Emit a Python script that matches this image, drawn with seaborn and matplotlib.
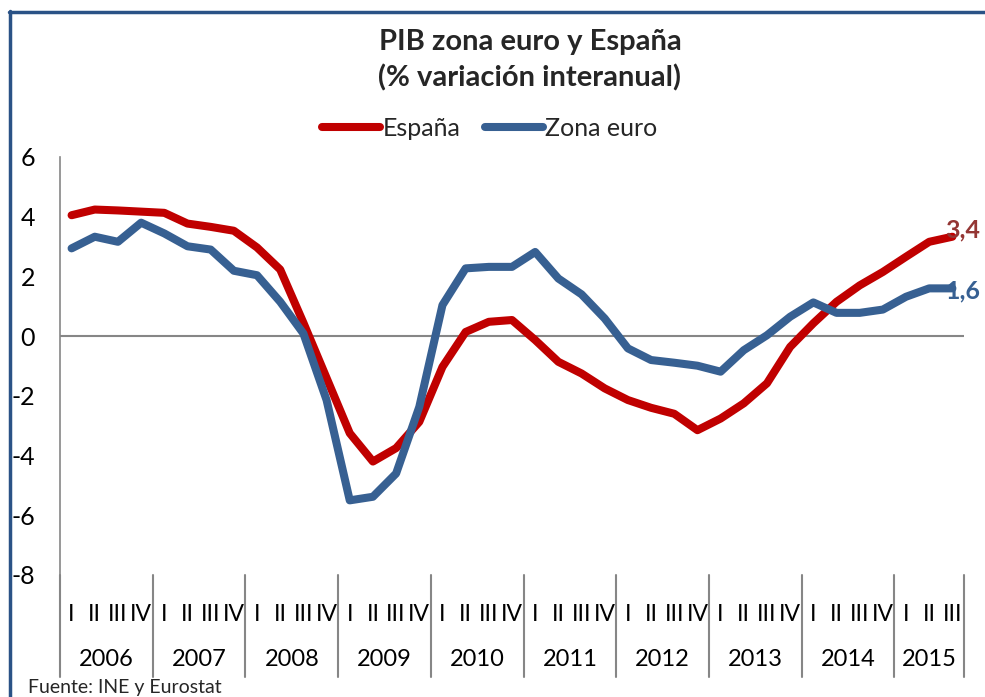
import matplotlib
matplotlib.use("Agg")
import matplotlib.pyplot as plt
from matplotlib.lines import Line2D
import matplotlib.transforms as mtransforms
import seaborn as sns
import pandas as pd

# ---- data ----
years = ["2006", "2007", "2008", "2009", "2010", "2011", "2012", "2013", "2014", "2015"]
quarters = ["I", "II", "III", "IV"] * 9 + ["I", "II", "III"]
espana = [4.05, 4.24, 4.21, 4.17, 4.13, 3.77, 3.66, 3.53, 2.97, 2.23,
          0.45, -1.40, -3.25, -4.20, -3.75, -2.87, -1.03, 0.14, 0.48, 0.54,
          -0.13, -0.86, -1.25, -1.75, -2.14, -2.40, -2.60, -3.15, -2.76, -2.25,
          -1.58, -0.36, 0.43, 1.15, 1.70, 2.15, 2.66, 3.16, 3.33]
zona_euro = [2.94, 3.33, 3.16, 3.80, 3.44, 3.01, 2.90, 2.19, 2.04, 1.15,
             0.09, -2.14, -5.50, -5.38, -4.60, -2.37, 1.04, 2.27, 2.32, 2.32,
             2.82, 1.93, 1.40, 0.59, -0.41, -0.80, -0.89, -0.99, -1.19, -0.47,
             0.03, 0.65, 1.13, 0.78, 0.78, 0.89, 1.32, 1.60, 1.60]
series_names = ["España", "Zona euro"]
end_labels = ["3,4", "1,6"]
y_ticks = [6, 4, 2, 0, -2, -4, -6, -8]

RED = "#C00000"
BLUE = "#376092"
GRAY = "#868686"

n = len(quarters)
df = pd.DataFrame({
    "idx": list(range(n)) * 2,
    "valor": espana + zona_euro,
    "serie": [series_names[0]] * n + [series_names[1]] * n,
})

sns.set_theme(style="white")
plt.rcParams["font.family"] = ["Lato", "DejaVu Sans"]

W, H = 985, 697
fig = plt.figure(figsize=(W / 100, H / 100), dpi=100)
left, right, top, bottom = 60, 964, 157, 575
ax = fig.add_axes([left / W, 1 - bottom / H, (right - left) / W, (bottom - top) / H])

sns.lineplot(data=df, x="idx", y="valor", hue="serie",
             palette={series_names[0]: RED, series_names[1]: BLUE},
             linewidth=5.8, legend=False, ax=ax, solid_capstyle="round",
             solid_joinstyle="round")

ax.set_xlim(-0.5, n - 0.5)
ax.set_ylim(-8, 6)
ax.set_yticks(y_ticks)
ax.set_yticklabels([str(v) for v in y_ticks], fontsize=18, color="black")
ax.tick_params(axis="y", length=0, pad=18)
ax.set_xticks(range(n))
ax.set_xticklabels(quarters, fontsize=16.5, color="black")
ax.tick_params(axis="x", length=0, pad=21)
ax.set_xlabel("")
ax.set_ylabel("")

for s in ["top", "right", "bottom"]:
    ax.spines[s].set_visible(False)
ax.spines["left"].set_color(GRAY)
ax.spines["left"].set_linewidth(1.2)
ax.axhline(0, color=GRAY, linewidth=1.5, zorder=1)

# year separators and labels
trans = mtransforms.blended_transform_factory(ax.transData, ax.transAxes)
sep_bottom = (bottom - 677) / (bottom - top)
boundaries = [-0.5 + 4 * k for k in range(10)] + [n - 0.5]
for b in boundaries:
    ax.add_line(Line2D([b, b], [0, sep_bottom], transform=trans, color=GRAY,
                       linewidth=1.5, clip_on=False))
year_y = (bottom - 660) / (bottom - top)
for k, yr in enumerate(years):
    x0 = boundaries[k]
    x1 = boundaries[k + 1]
    ax.text((x0 + x1) / 2, year_y, yr, transform=trans, ha="center",
            va="center", fontsize=17, color="black")

# end labels
ax.annotate(end_labels[0], xy=(n - 1, espana[-1]), xytext=(-5, 5),
            textcoords="offset points", ha="left", va="center",
            fontsize=18, fontweight="bold", color="#943634")
ax.annotate(end_labels[1], xy=(n - 1, zona_euro[-1]), xytext=(-5, -2),
            textcoords="offset points", ha="left", va="center",
            fontsize=18, fontweight="bold", color=BLUE)

# title
fig.text(530 / W, 1 - 42 / H, "PIB zona euro y España", ha="center",
         va="center", fontsize=21, fontweight="bold")
fig.text(530 / W, 1 - 78 / H, "(% variación interanual)", ha="center",
         va="center", fontsize=21, fontweight="bold")

# legend
handles = [Line2D([0], [0], color=RED, linewidth=5.8, solid_capstyle="round"),
           Line2D([0], [0], color=BLUE, linewidth=5.8, solid_capstyle="round")]
fig.legend(handles, series_names, loc="center", bbox_to_anchor=(490 / W, 1 - 128 / H),
           ncol=2, frameon=False, fontsize=18, handlelength=2.3,
           handletextpad=0.1, columnspacing=1.0)

# source
fig.text(28 / W, 1 - 688 / H, "Fuente: INE y Eurostat", ha="left", va="center",
         fontsize=14)

# outer border
border = "#2A5286"
fig.add_artist(Line2D([9.5 / W, 9.5 / W], [0, 1 - 11 / H], transform=fig.transFigure,
                      color=border, linewidth=2.5))
fig.add_artist(Line2D([8.5 / W, 1], [1 - 12 / H, 1 - 12 / H], transform=fig.transFigure,
                      color=border, linewidth=2.5))

fig.savefig("out.png", dpi=100, facecolor="white")
